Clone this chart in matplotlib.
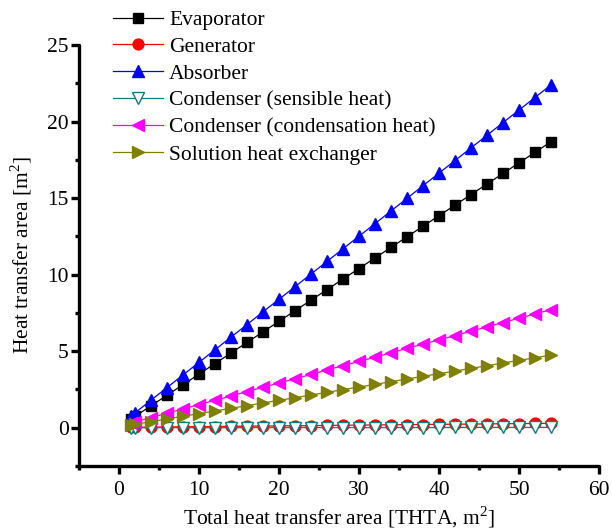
import matplotlib.pyplot as plt
from matplotlib.ticker import MultipleLocator

plt.rcParams['font.family'] = ['Liberation Serif', 'DejaVu Serif']
plt.rcParams['mathtext.fontset'] = 'custom'
plt.rcParams['mathtext.rm'] = 'Liberation Serif'

thta = [1.5, 2, 4, 6, 8, 10, 12, 14, 16, 18, 20, 22, 24, 26, 28,
        30, 32, 34, 36, 38, 40, 42, 44, 46, 48, 50, 52, 54]

evaporator = [0.57, 0.74, 1.43, 2.12, 2.81, 3.50, 4.19, 4.88, 5.57, 6.26,
              6.95, 7.64, 8.33, 9.02, 9.71, 10.40, 11.09, 11.78, 12.47, 13.16,
              13.85, 14.54, 15.23, 15.92, 16.61, 17.30, 17.99, 18.68]
generator = [0.03, 0.03, 0.04, 0.05, 0.06, 0.07, 0.08, 0.09, 0.10, 0.11,
             0.12, 0.13, 0.14, 0.15, 0.16, 0.17, 0.18, 0.19, 0.20, 0.21,
             0.22, 0.23, 0.24, 0.25, 0.26, 0.27, 0.28, 0.29]
absorber = [0.77, 0.97, 1.80, 2.62, 3.45, 4.27, 5.09, 5.92, 6.74, 7.57,
            8.39, 9.21, 10.04, 10.86, 11.69, 12.51, 13.33, 14.16, 14.98, 15.81,
            16.63, 17.45, 18.28, 19.10, 19.93, 20.75, 21.57, 22.40]
cond_sensible = [0.00, 0.00, 0.00, 0.00, 0.00, 0.00, 0.00, 0.00, 0.01, 0.01,
                 0.01, 0.01, 0.01, 0.01, 0.01, 0.01, 0.01, 0.01, 0.01, 0.01,
                 0.01, 0.02, 0.02, 0.02, 0.02, 0.02, 0.02, 0.02]
cond_condensation = [0.31, 0.38, 0.66, 0.95, 1.23, 1.51, 1.79, 2.07, 2.36, 2.64,
                     2.92, 3.20, 3.48, 3.77, 4.05, 4.33, 4.61, 4.89, 5.18, 5.46,
                     5.74, 6.02, 6.30, 6.59, 6.87, 7.15, 7.43, 7.71]
solution_hx = [0.18, 0.22, 0.40, 0.57, 0.75, 0.92, 1.09, 1.27, 1.44, 1.62,
               1.79, 1.96, 2.14, 2.31, 2.49, 2.66, 2.83, 3.01, 3.18, 3.36,
               3.53, 3.70, 3.88, 4.05, 4.23, 4.40, 4.57, 4.75]

FS = 15.5

fig = plt.figure(figsize=(6.12, 5.31), dpi=100)
ax = fig.add_axes([79/612, 65/531, 520/612, 421/531])

ax.plot(thta, evaporator, color='black', lw=0.9, marker='s', ms=7, label='Evaporator')
ax.plot(thta, generator, color='red', lw=0.9, marker='o', ms=7.8, label='Generator')
ax.plot(thta, absorber, color='blue', lw=0.9, marker='^', ms=9.3, label='Absorber')
ax.plot(thta, cond_sensible, color='#008080', lw=0.9, marker='v', ms=9.3,
        mfc='white', mec='#008080', label='Condenser (sensible heat)')
ax.plot(thta, cond_condensation, color='magenta', lw=0.9, marker='<', ms=9.3,
        label='Condenser (condensation heat)')
ax.plot(thta, solution_hx, color='#808000', lw=0.9, marker='>', ms=9.3,
        label='Solution heat exchanger')

ax.set_xlim(-5, 60)
ax.set_ylim(-2.5, 25)
ax.xaxis.set_major_locator(MultipleLocator(10))
ax.xaxis.set_minor_locator(MultipleLocator(5))
ax.yaxis.set_major_locator(MultipleLocator(5))
ax.yaxis.set_minor_locator(MultipleLocator(2.5))

for side in ['top', 'right']:
    ax.spines[side].set_visible(False)
for side in ['left', 'bottom']:
    ax.spines[side].set_linewidth(2.4)
    ax.spines[side].set_capstyle('round')

ax.tick_params(which='major', direction='out', length=5.5, width=2.4, labelsize=FS, pad=2)
ax.tick_params(which='minor', direction='out', length=3, width=2.4)
ax.tick_params(axis='x', which='major', pad=5.5)

ax.set_xlabel('Total heat transfer area [THTA, m$^2$]', fontsize=FS, labelpad=3)
ax.set_ylabel('Heat transfer area [m$^2$]', fontsize=FS, labelpad=9)

fig.legend(loc='upper left', bbox_to_anchor=(113/612, 1 - 10/531), frameon=False,
           fontsize=FS, handlelength=2.32, handletextpad=0.28, labelspacing=0.32,
           borderpad=0, borderaxespad=0)

fig.savefig('out.png', dpi=100)
